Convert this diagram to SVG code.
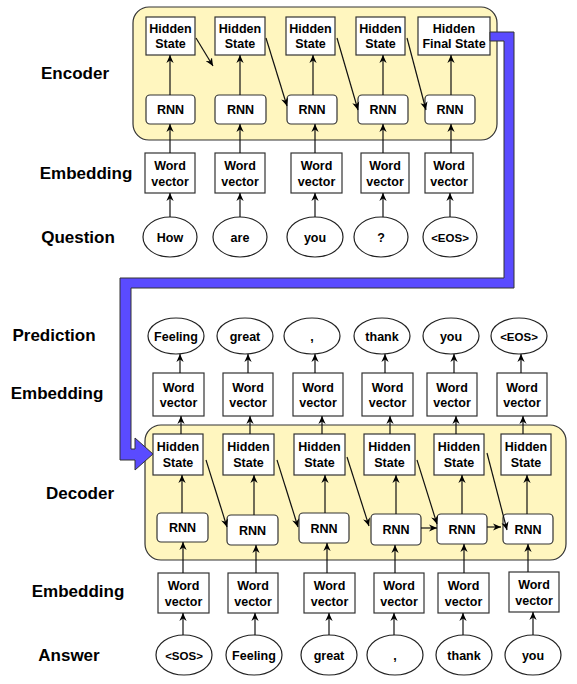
<svg xmlns="http://www.w3.org/2000/svg" width="577" height="684" viewBox="0 0 577 684">
<defs>
<style>
.lbl{font-family:"Liberation Sans",Arial,sans-serif;font-weight:bold;font-size:17px;fill:#000;text-anchor:middle}
.t{font-family:"Liberation Sans",Arial,sans-serif;font-weight:bold;font-size:12.5px;fill:#000;text-anchor:middle}
.ts{font-family:"Liberation Sans",Arial,sans-serif;font-weight:bold;font-size:11.5px;fill:#000;text-anchor:middle}
.grp{fill:#FFF6BF;stroke:#333;stroke-width:1.2}
.box{fill:#fff;stroke:#333;stroke-width:1.2}
.rnn{fill:#fff;stroke:#333;stroke-width:1.2}
.ell{fill:#fff;stroke:#222;stroke-width:1.2}
.c{fill:none;stroke:#111;stroke-width:1.2;marker-end:url(#ah)}
</style>
<marker id="ah" viewBox="0 0 10 10" refX="10" refY="5" markerWidth="8" markerHeight="8" orient="auto" markerUnits="userSpaceOnUse">
<path d="M0,0.5 L10,5 L0,9.5 L3,5 z" fill="#000"/>
</marker>
</defs>

<g id="labels">
<text class="lbl" x="75" y="79">Encoder</text>
<text class="lbl" x="86" y="179">Embedding</text>
<text class="lbl" x="78" y="243">Question</text>
<text class="lbl" x="54" y="341">Prediction</text>
<text class="lbl" x="57" y="399">Embedding</text>
<text class="lbl" x="80" y="499">Decoder</text>
<text class="lbl" x="78" y="597">Embedding</text>
<text class="lbl" x="69" y="661">Answer</text>
</g>

<g id="encoder-group"><rect class="grp" x="133" y="7" width="364" height="133" rx="16"/></g>
<g id="decoder-group"><rect class="grp" x="145" y="425" width="421" height="135" rx="16"/></g>

<!-- Encoder nodes -->
<g id="e_hs1"><rect class="box" x="146" y="17" width="49" height="38"/><text class="t" x="170.5" y="33">Hidden</text><text class="t" x="170.5" y="48">State</text></g>
<g id="e_hs2"><rect class="box" x="215" y="17" width="50" height="38"/><text class="t" x="240" y="33">Hidden</text><text class="t" x="240" y="48">State</text></g>
<g id="e_hs3"><rect class="box" x="286" y="17" width="49" height="38"/><text class="t" x="310.5" y="33">Hidden</text><text class="t" x="310.5" y="48">State</text></g>
<g id="e_hs4"><rect class="box" x="356" y="17" width="49" height="38"/><text class="t" x="380.5" y="33">Hidden</text><text class="t" x="380.5" y="48">State</text></g>
<g id="e_hs5"><rect class="box" x="418" y="17" width="72" height="38"/><text class="t" x="454" y="33">Hidden</text><text class="t" x="454" y="48">Final State</text></g>

<g id="e_rnn1"><rect class="rnn" x="146" y="95" width="49" height="29" rx="4"/><text class="t" x="170.5" y="114">RNN</text></g>
<g id="e_rnn2"><rect class="rnn" x="215" y="95" width="51" height="29" rx="4"/><text class="t" x="240.5" y="114">RNN</text></g>
<g id="e_rnn3"><rect class="rnn" x="287" y="95" width="50" height="29" rx="4"/><text class="t" x="312" y="114">RNN</text></g>
<g id="e_rnn4"><rect class="rnn" x="358" y="95" width="50" height="29" rx="4"/><text class="t" x="383" y="114">RNN</text></g>
<g id="e_rnn5"><rect class="rnn" x="425" y="95" width="50" height="29" rx="4"/><text class="t" x="450" y="114">RNN</text></g>

<g id="e_wv1"><rect class="box" x="145" y="153" width="50" height="40"/><text class="t" x="170" y="170">Word</text><text class="t" x="170" y="186">vector</text></g>
<g id="e_wv2"><rect class="box" x="215" y="153" width="50" height="40"/><text class="t" x="240" y="170">Word</text><text class="t" x="240" y="186">vector</text></g>
<g id="e_wv3"><rect class="box" x="291" y="153" width="51" height="40"/><text class="t" x="316.5" y="170">Word</text><text class="t" x="316.5" y="186">vector</text></g>
<g id="e_wv4"><rect class="box" x="361" y="153" width="48" height="40"/><text class="t" x="385" y="170">Word</text><text class="t" x="385" y="186">vector</text></g>
<g id="e_wv5"><rect class="box" x="425" y="153" width="48" height="40"/><text class="t" x="449" y="170">Word</text><text class="t" x="449" y="186">vector</text></g>

<g id="e_w1"><ellipse class="ell" cx="170" cy="237" rx="27" ry="20"/><text class="t" x="170" y="241.5">How</text></g>
<g id="e_w2"><ellipse class="ell" cx="240" cy="237" rx="27" ry="20"/><text class="t" x="240" y="241.5">are</text></g>
<g id="e_w3"><ellipse class="ell" cx="315" cy="237" rx="28" ry="20"/><text class="t" x="315" y="241.5">you</text></g>
<g id="e_w4"><ellipse class="ell" cx="381" cy="237" rx="27" ry="20"/><text class="t" x="381" y="241.5">?</text></g>
<g id="e_w5"><ellipse class="ell" cx="450" cy="237" rx="27" ry="20"/><text class="ts" x="450" y="241.5">&lt;EOS&gt;</text></g>

<!-- Decoder nodes -->
<g id="d_hs1"><rect class="box" x="153" y="434" width="50" height="41"/><text class="t" x="178" y="451">Hidden</text><text class="t" x="178" y="467">State</text></g>
<g id="d_hs2"><rect class="box" x="223" y="434" width="51" height="41"/><text class="t" x="248.5" y="451">Hidden</text><text class="t" x="248.5" y="467">State</text></g>
<g id="d_hs3"><rect class="box" x="294" y="434" width="51" height="41"/><text class="t" x="319.5" y="451">Hidden</text><text class="t" x="319.5" y="467">State</text></g>
<g id="d_hs4"><rect class="box" x="364" y="434" width="51" height="41"/><text class="t" x="389.5" y="451">Hidden</text><text class="t" x="389.5" y="467">State</text></g>
<g id="d_hs5"><rect class="box" x="434" y="434" width="50" height="41"/><text class="t" x="459" y="451">Hidden</text><text class="t" x="459" y="467">State</text></g>
<g id="d_hs6"><rect class="box" x="501" y="434" width="50" height="41"/><text class="t" x="526" y="451">Hidden</text><text class="t" x="526" y="467">State</text></g>

<g id="d_rnn1"><rect class="rnn" x="157" y="513" width="51" height="29" rx="4"/><text class="t" x="182.5" y="532">RNN</text></g>
<g id="d_rnn2"><rect class="rnn" x="227" y="515" width="51" height="30" rx="4"/><text class="t" x="252.5" y="534.5">RNN</text></g>
<g id="d_rnn3"><rect class="rnn" x="299" y="513" width="50" height="30" rx="4"/><text class="t" x="324" y="532.5">RNN</text></g>
<g id="d_rnn4"><rect class="rnn" x="371" y="514" width="50" height="31" rx="4"/><text class="t" x="396" y="534">RNN</text></g>
<g id="d_rnn5"><rect class="rnn" x="437" y="514" width="50" height="30" rx="4"/><text class="t" x="462" y="533.5">RNN</text></g>
<g id="d_rnn6"><rect class="rnn" x="503" y="514" width="50" height="30" rx="4"/><text class="t" x="528" y="533.5">RNN</text></g>

<g id="p_wv1"><rect class="box" x="153" y="373" width="51" height="43"/><text class="t" x="178.5" y="391.5">Word</text><text class="t" x="178.5" y="407">vector</text></g>
<g id="p_wv2"><rect class="box" x="223" y="373" width="50" height="43"/><text class="t" x="248" y="391.5">Word</text><text class="t" x="248" y="407">vector</text></g>
<g id="p_wv3"><rect class="box" x="293" y="373" width="50" height="43"/><text class="t" x="318" y="391.5">Word</text><text class="t" x="318" y="407">vector</text></g>
<g id="p_wv4"><rect class="box" x="362" y="373" width="51" height="43"/><text class="t" x="387.5" y="391.5">Word</text><text class="t" x="387.5" y="407">vector</text></g>
<g id="p_wv5"><rect class="box" x="427" y="373" width="50" height="43"/><text class="t" x="452" y="391.5">Word</text><text class="t" x="452" y="407">vector</text></g>
<g id="p_wv6"><rect class="box" x="497" y="373" width="50" height="43"/><text class="t" x="522" y="391.5">Word</text><text class="t" x="522" y="407">vector</text></g>

<g id="p_w1"><ellipse class="ell" cx="176" cy="336" rx="28" ry="18"/><text class="t" x="176" y="340.5">Feeling</text></g>
<g id="p_w2"><ellipse class="ell" cx="245" cy="336" rx="28" ry="18"/><text class="t" x="245" y="340.5">great</text></g>
<g id="p_w3"><ellipse class="ell" cx="312" cy="336" rx="28" ry="18"/><text class="t" x="312" y="340.5">,</text></g>
<g id="p_w4"><ellipse class="ell" cx="382" cy="336" rx="28" ry="18"/><text class="t" x="382" y="340.5">thank</text></g>
<g id="p_w5"><ellipse class="ell" cx="451" cy="336" rx="28" ry="18"/><text class="t" x="451" y="340.5">you</text></g>
<g id="p_w6"><ellipse class="ell" cx="519" cy="336" rx="28" ry="18"/><text class="ts" x="519" y="340.5">&lt;EOS&gt;</text></g>

<g id="a_wv1"><rect class="box" x="158" y="573" width="51" height="40"/><text class="t" x="183.5" y="590">Word</text><text class="t" x="183.5" y="605.5">vector</text></g>
<g id="a_wv2"><rect class="box" x="228" y="573" width="50" height="40"/><text class="t" x="253" y="590">Word</text><text class="t" x="253" y="605.5">vector</text></g>
<g id="a_wv3"><rect class="box" x="304" y="573" width="51" height="40"/><text class="t" x="329.5" y="590">Word</text><text class="t" x="329.5" y="605.5">vector</text></g>
<g id="a_wv4"><rect class="box" x="374" y="573" width="50" height="40"/><text class="t" x="399" y="590">Word</text><text class="t" x="399" y="605.5">vector</text></g>
<g id="a_wv5"><rect class="box" x="438" y="573" width="51" height="40"/><text class="t" x="463.5" y="590">Word</text><text class="t" x="463.5" y="605.5">vector</text></g>
<g id="a_wv6"><rect class="box" x="509" y="572" width="50" height="40"/><text class="t" x="534" y="589">Word</text><text class="t" x="534" y="604.5">vector</text></g>

<g id="a_w1"><ellipse class="ell" cx="184" cy="655" rx="28" ry="20"/><text class="ts" x="184" y="659.5">&lt;SOS&gt;</text></g>
<g id="a_w2"><ellipse class="ell" cx="254" cy="655" rx="28" ry="20"/><text class="t" x="254" y="659.5">Feeling</text></g>
<g id="a_w3"><ellipse class="ell" cx="329" cy="655" rx="28" ry="20"/><text class="t" x="329" y="659.5">great</text></g>
<g id="a_w4"><ellipse class="ell" cx="395" cy="655" rx="28" ry="20"/><text class="t" x="395" y="659.5">,</text></g>
<g id="a_w5"><ellipse class="ell" cx="464" cy="655" rx="28" ry="20"/><text class="t" x="464" y="659.5">thank</text></g>
<g id="a_w6"><ellipse class="ell" cx="533" cy="655" rx="28" ry="20"/><text class="t" x="533" y="659.5">you</text></g>

<g id="connectors">
<!-- encoder -->
<line class="c" x1="170" y1="95" x2="170" y2="55"/>
<line class="c" x1="240" y1="95" x2="240" y2="55"/>
<line class="c" x1="313" y1="95" x2="313" y2="55"/>
<line class="c" x1="383" y1="95" x2="383" y2="55"/>
<line class="c" x1="451" y1="95" x2="451" y2="55"/>
<line class="c" x1="170" y1="153" x2="170" y2="124"/>
<line class="c" x1="240" y1="153" x2="240" y2="124"/>
<line class="c" x1="315" y1="153" x2="315" y2="124"/>
<line class="c" x1="383" y1="153" x2="383" y2="124"/>
<line class="c" x1="451" y1="153" x2="451" y2="124"/>
<line class="c" x1="170" y1="217" x2="170" y2="193"/>
<line class="c" x1="240" y1="217" x2="240" y2="193"/>
<line class="c" x1="315" y1="217" x2="315" y2="193"/>
<line class="c" x1="383" y1="217" x2="383" y2="193"/>
<line class="c" x1="450" y1="217" x2="450" y2="193"/>
<line class="c" x1="196" y1="38" x2="213" y2="66"/>
<line class="c" x1="266" y1="38" x2="287" y2="106"/>
<line class="c" x1="337" y1="38" x2="358" y2="110"/>
<line class="c" x1="407" y1="38" x2="426" y2="110"/>
<!-- decoder -->
<line class="c" x1="182" y1="513" x2="182" y2="475"/>
<line class="c" x1="254" y1="515" x2="254" y2="475"/>
<line class="c" x1="325" y1="513" x2="325" y2="475"/>
<line class="c" x1="396" y1="514" x2="396" y2="475"/>
<line class="c" x1="462" y1="514" x2="462" y2="475"/>
<line class="c" x1="527" y1="514" x2="527" y2="475"/>
<line class="c" x1="181" y1="434" x2="181" y2="416"/>
<line class="c" x1="250" y1="434" x2="250" y2="416"/>
<line class="c" x1="322" y1="434" x2="322" y2="416"/>
<line class="c" x1="390" y1="434" x2="390" y2="416"/>
<line class="c" x1="456" y1="434" x2="456" y2="416"/>
<line class="c" x1="523" y1="434" x2="523" y2="416"/>
<line class="c" x1="180" y1="373" x2="180" y2="354"/>
<line class="c" x1="248" y1="373" x2="248" y2="354"/>
<line class="c" x1="315" y1="373" x2="315" y2="354"/>
<line class="c" x1="385" y1="373" x2="385" y2="354"/>
<line class="c" x1="454" y1="373" x2="454" y2="354"/>
<line class="c" x1="521" y1="373" x2="521" y2="354"/>
<line class="c" x1="183" y1="573" x2="183" y2="542"/>
<line class="c" x1="256" y1="573" x2="256" y2="545"/>
<line class="c" x1="327" y1="573" x2="327" y2="543"/>
<line class="c" x1="395" y1="573" x2="395" y2="545"/>
<line class="c" x1="464" y1="573" x2="464" y2="544"/>
<line class="c" x1="528" y1="572" x2="528" y2="544"/>
<line class="c" x1="183" y1="635" x2="183" y2="613"/>
<line class="c" x1="255" y1="635" x2="255" y2="613"/>
<line class="c" x1="329" y1="635" x2="329" y2="613"/>
<line class="c" x1="394" y1="635" x2="394" y2="613"/>
<line class="c" x1="463" y1="635" x2="463" y2="613"/>
<line class="c" x1="533" y1="635" x2="533" y2="612"/>
<line class="c" x1="206" y1="460" x2="227" y2="527"/>
<line class="c" x1="277" y1="460" x2="298" y2="527"/>
<line class="c" x1="347" y1="457" x2="369" y2="526"/>
<line class="c" x1="417" y1="460" x2="437" y2="524"/>
<line class="c" x1="487" y1="453" x2="507" y2="530"/>
<line class="c" x1="421" y1="528" x2="437" y2="528"/>
<line class="c" x1="487" y1="527" x2="501" y2="527"/>
<!-- encoder to decoder thick arrow -->
<polygon points="490,32 514,32 514,288 131,288 131,449 135,449 135,438 153,454 135,470 135,460 120,460 120,278 504,278 504,41 490,41" fill="#5a4bff" stroke="#333" stroke-width="1"/>
</g>
</svg>
